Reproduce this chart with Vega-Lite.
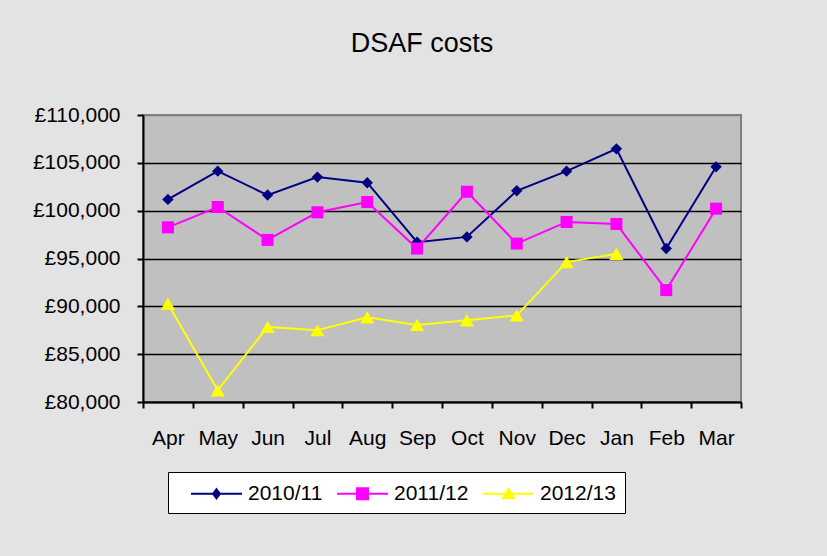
{
  "$schema": "https://vega.github.io/schema/vega-lite/v6.json",
  "width": 598,
  "height": 287,
  "autosize": {"type": "none"},
  "padding": {"left": 143, "top": 115, "right": 86, "bottom": 154},
  "background": "#e3e3e3",
  "title": {"text": "DSAF costs", "fontSize": 27, "font": "Liberation Sans", "fontWeight": "normal", "color": "black", "offset": 46, "dx": -20},
  "config": {
    "view": {"fill": "#c0c0c0", "stroke": "#808080", "strokeWidth": 2},
    "font": "Liberation Sans"
  },
  "data": {"values": [
    {"month": "Apr", "series": "2010/11", "value": 101180},
    {"month": "May", "series": "2010/11", "value": 104130},
    {"month": "Jun", "series": "2010/11", "value": 101630},
    {"month": "Jul", "series": "2010/11", "value": 103510},
    {"month": "Aug", "series": "2010/11", "value": 102920},
    {"month": "Sep", "series": "2010/11", "value": 96700},
    {"month": "Oct", "series": "2010/11", "value": 97260},
    {"month": "Nov", "series": "2010/11", "value": 102080},
    {"month": "Dec", "series": "2010/11", "value": 104130},
    {"month": "Jan", "series": "2010/11", "value": 106460},
    {"month": "Feb", "series": "2010/11", "value": 96040},
    {"month": "Mar", "series": "2010/11", "value": 104580},
    {"month": "Apr", "series": "2011/12", "value": 98260},
    {"month": "May", "series": "2011/12", "value": 100380},
    {"month": "Jun", "series": "2011/12", "value": 96940},
    {"month": "Jul", "series": "2011/12", "value": 99830},
    {"month": "Aug", "series": "2011/12", "value": 100900},
    {"month": "Sep", "series": "2011/12", "value": 96040},
    {"month": "Oct", "series": "2011/12", "value": 101980},
    {"month": "Nov", "series": "2011/12", "value": 96560},
    {"month": "Dec", "series": "2011/12", "value": 98820},
    {"month": "Jan", "series": "2011/12", "value": 98610},
    {"month": "Feb", "series": "2011/12", "value": 91700},
    {"month": "Mar", "series": "2011/12", "value": 100210},
    {"month": "Apr", "series": "2012/13", "value": 90280},
    {"month": "May", "series": "2012/13", "value": 81220},
    {"month": "Jun", "series": "2012/13", "value": 87850},
    {"month": "Jul", "series": "2012/13", "value": 87500},
    {"month": "Aug", "series": "2012/13", "value": 88850},
    {"month": "Sep", "series": "2012/13", "value": 88060},
    {"month": "Oct", "series": "2012/13", "value": 88540},
    {"month": "Nov", "series": "2012/13", "value": 89060},
    {"month": "Dec", "series": "2012/13", "value": 94620},
    {"month": "Jan", "series": "2012/13", "value": 95490}
  ]},
  "encoding": {
    "x": {
      "field": "month", "type": "nominal",
      "sort": ["Apr", "May", "Jun", "Jul", "Aug", "Sep", "Oct", "Nov", "Dec", "Jan", "Feb", "Mar"],
      "scale": {"type": "band", "paddingInner": 0, "paddingOuter": 0},
      "bandPosition": 0.5,
      "axis": {
        "title": null, "labelAngle": 0, "labelFontSize": 21, "labelFont": "Liberation Sans", "labelColor": "black",
        "labelPadding": 19, "tickBand": "extent", "tickSize": 6, "tickColor": "black", "tickWidth": 2,
        "domainColor": "black", "domainWidth": 2, "grid": false
      }
    },
    "y": {
      "field": "value", "type": "quantitative",
      "scale": {"domain": [80000, 110000], "nice": false, "zero": false},
      "axis": {
        "title": null, "values": [80000, 85000, 90000, 95000, 100000, 105000, 110000],
        "format": ",.0f", "labelExpr": "'£' + datum.label",
        "labelFontSize": 21, "labelFont": "Liberation Sans", "labelColor": "black", "labelPadding": 17,
        "tickSize": 6, "tickColor": "black", "tickWidth": 2, "domainColor": "black", "domainWidth": 2,
        "grid": true, "gridOpacity": 1, "gridWidth": 1.5,
        "gridColor": {"condition": {"test": "datum.value == 110000", "value": "#808080"}, "value": "black"}
      }
    }
  },
  "layer": [
    {
      "transform": [{"filter": "datum.series == '2010/11'"}],
      "layer": [
        {"mark": {"type": "line", "strokeWidth": 2, "color": "#000080"}, "encoding": {}},
        {"mark": {"type": "point", "shape": "diamond", "filled": true, "size": 130, "color": "#000080", "opacity": 1}}
      ]
    },
    {
      "transform": [{"filter": "datum.series == '2011/12'"}],
      "layer": [
        {"mark": {"type": "line", "strokeWidth": 2, "color": "#ff00ff"}, "encoding": {}},
        {"mark": {"type": "point", "shape": "square", "filled": true, "size": 145, "color": "#ff00ff", "opacity": 1}}
      ]
    },
    {
      "transform": [{"filter": "datum.series == '2012/13'"}],
      "layer": [
        {"mark": {"type": "line", "strokeWidth": 2, "color": "#ffff00"}, "encoding": {}},
        {"mark": {"type": "point", "shape": "triangle-up", "filled": true, "size": 200, "color": "#ffff00", "opacity": 1}}
      ]
    },
    {
      "transform": [{"filter": "datum.value < 0"}],
      "mark": {"type": "point", "filled": true, "strokeWidth": 2, "opacity": 1},
      "encoding": {
        "fill": {"field": "series", "type": "nominal",
          "scale": {"domain": ["2010/11", "2011/12", "2012/13"], "range": ["#000080", "#ff00ff", "#ffff00"]},
          "legend": {"title": null, "orient": "none", "legendX": 25, "legendY": 357, "direction": "horizontal",
            "symbolSize": 529, "symbolOffset": 27, "symbolStrokeWidth": 2, "labelOffset": 19,
            "labelFontSize": 21, "labelFont": "Liberation Sans", "labelColor": "black",
            "columnPadding": -2.5, "padding": 9, "fillColor": "white", "strokeColor": "black",
            "encode": {"legend": {"update": {"strokeWidth": {"value": 2}}}}}},
        "stroke": {"field": "series", "type": "nominal",
          "scale": {"domain": ["2010/11", "2011/12", "2012/13"], "range": ["#000080", "#ff00ff", "#ffff00"]},
          "legend": {"title": null, "orient": "none", "legendX": 25, "legendY": 357, "direction": "horizontal",
            "symbolSize": 529, "symbolOffset": 27, "symbolStrokeWidth": 2, "labelOffset": 19,
            "labelFontSize": 21, "labelFont": "Liberation Sans", "labelColor": "black",
            "columnPadding": -2.5, "padding": 9, "fillColor": "white", "strokeColor": "black",
            "encode": {"legend": {"update": {"strokeWidth": {"value": 2}}}}}},
        "shape": {"field": "series", "type": "nominal",
          "scale": {"domain": ["2010/11", "2011/12", "2012/13"],
            "range": ["M-2.217,0L2.217,0M0,-0.39L0.3,0L0,0.39L-0.3,0Z", "M-2.217,0L2.217,0M-0.478,-0.478L0.478,-0.478L0.478,0.478L-0.478,0.478Z", "M-2.217,0L2.217,0M0,-0.42L0.478,0.36L-0.478,0.36Z"]},
          "legend": {"title": null, "orient": "none", "legendX": 25, "legendY": 357, "direction": "horizontal",
            "symbolSize": 529, "symbolOffset": 27, "symbolStrokeWidth": 2, "labelOffset": 19,
            "labelFontSize": 21, "labelFont": "Liberation Sans", "labelColor": "black",
            "columnPadding": -2.5, "padding": 9, "fillColor": "white", "strokeColor": "black",
            "encode": {"legend": {"update": {"strokeWidth": {"value": 2}}}}}}
      }
    }
  ]
}
